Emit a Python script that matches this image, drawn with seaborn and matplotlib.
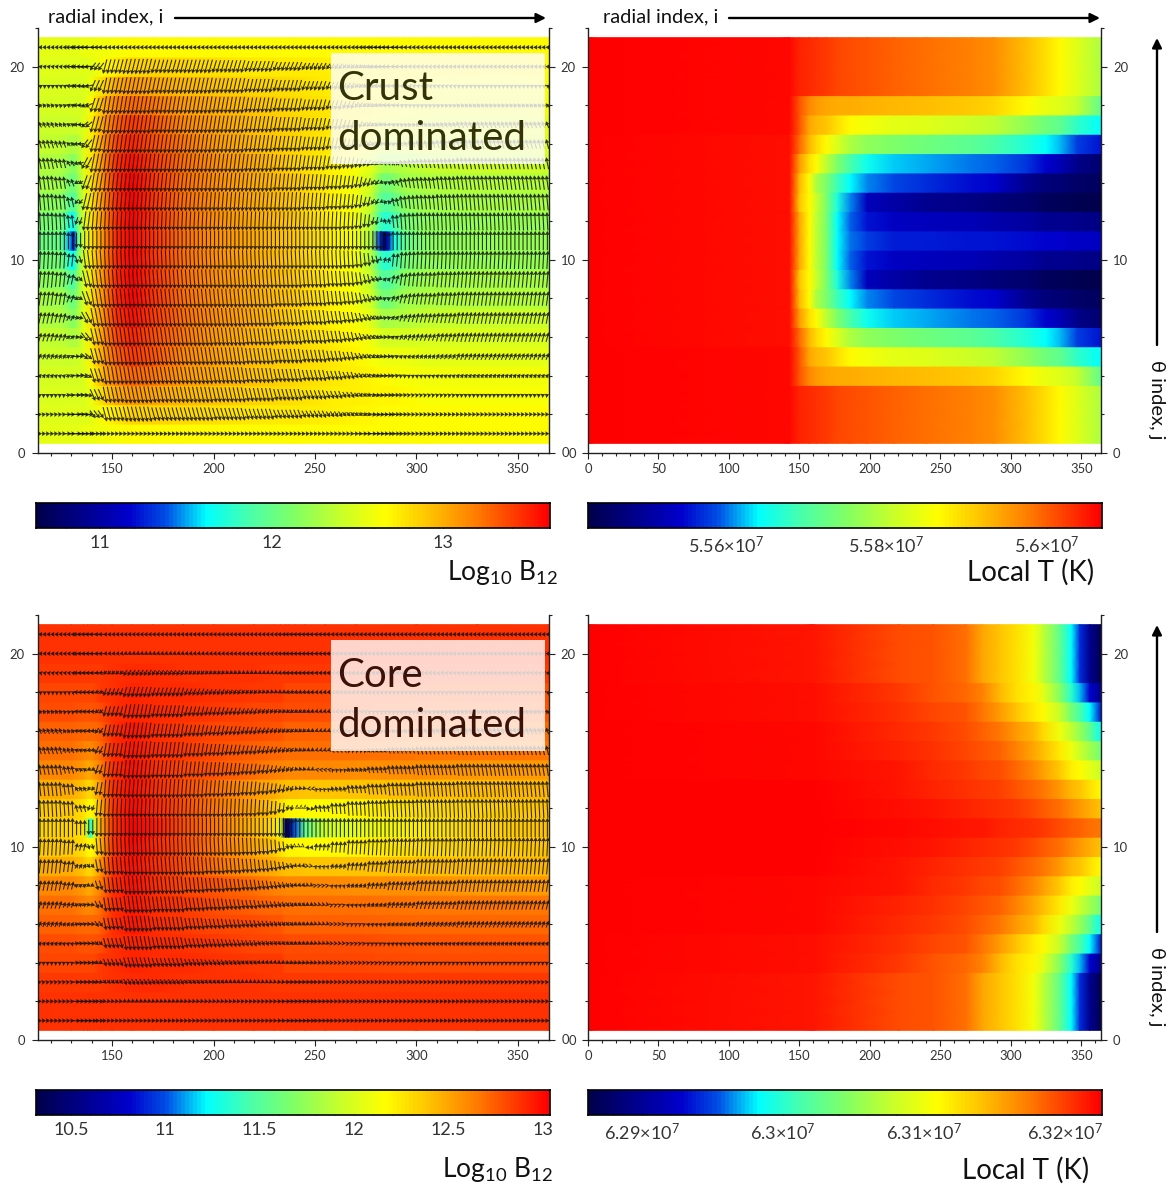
import numpy as np
import matplotlib
matplotlib.use("Agg")
import matplotlib.pyplot as plt
from matplotlib.colors import LinearSegmentedColormap, Normalize
from matplotlib.patches import Rectangle
import seaborn as sns

W, H = 1172, 1190

# ---- colour scale limits
LOGB_TOP_RANGE = (10.627, 13.624)
LOGB_BOT_RANGE = (10.315, 13.037)
T_TOP_RANGE = (5.5428, 5.6069)    # 1e7 K
T_BOT_RANGE = (6.2862, 6.3226)    # 1e7 K

# ---- theta rows j = 1..11 (the field is mirror symmetric about j = 11)
# Values below are positions on each colour bar (0 = low end, 1 = high end).
TR_I = [0,143,150,157,162,169,177,186,198,217,240,273,288,311,325,335,347,364]
TR_LEVEL = [
 [1,.99,.96,.95,.94,.93,.92,.91,.90,.885,.87,.845,.83,.77,.72,.68,.63,.56],
 [1,.99,.96,.95,.94,.93,.92,.91,.90,.885,.87,.845,.83,.77,.72,.68,.63,.56],
 [1,.99,.96,.95,.94,.93,.92,.91,.90,.885,.87,.845,.83,.77,.72,.68,.63,.56],
 [1,.99,.9,.84,.82,.80,.795,.79,.785,.78,.77,.75,.74,.68,.645,.63,.59,.45],
 [1,.99,.9,.8,.78,.76,.72,.68,.66,.64,.63,.6,.58,.52,.47,.45,.39,.33],
 [1,.98,.88,.78,.73,.68,.62,.56,.52,.5,.47,.44,.42,.37,.33,.3,.24,.2],
 [1,.98,.82,.72,.68,.58,.5,.42,.35,.31,.29,.27,.26,.23,.18,.15,.09,.05],
 [1,.98,.78,.68,.56,.5,.4,.33,.28,.25,.22,.19,.18,.1,.07,.06,.04,.03],
 [1,.98,.76,.68,.6,.5,.36,.28,.16,.13,.1,.08,.07,.05,.03,.02,.01,0],
 [1,.98,.8,.68,.58,.5,.33,.26,.2,.17,.16,.15,.14,.12,.1,.1,.09,.08],
 [1,.98,.8,.68,.58,.5,.33,.27,.24,.21,.205,.2,.2,.19,.18,.18,.17,.17],
]

BR_I = [0,160,221,245,268,280,292,304,316,323,335,343,349,356,364]
BR_LEVEL = [
 [1,.97,.91,.9,.87,.8,.76,.72,.66,.58,.45,.33,.22,.1,.01],
 [1,.97,.91,.9,.87,.8,.76,.72,.66,.58,.45,.33,.22,.1,.01],
 [1,.97,.91,.9,.87,.8,.76,.72,.66,.58,.45,.33,.22,.1,.01],
 [1,.98,.93,.9,.88,.85,.78,.72,.69,.64,.5,.38,.3,.18,.1],
 [1,.98,.94,.92,.9,.86,.82,.76,.71,.68,.59,.48,.42,.33,.2],
 [1,.99,.95,.93,.91,.89,.86,.82,.78,.73,.65,.58,.53,.45,.34],
 [1,.99,.96,.94,.92,.905,.89,.85,.8,.77,.71,.65,.6,.54,.48],
 [1,.99,.97,.95,.93,.92,.91,.88,.84,.81,.75,.7,.68,.64,.6],
 [1,1,.975,.96,.945,.935,.925,.9,.88,.86,.82,.78,.76,.72,.68],
 [1,1,.98,.97,.96,.95,.94,.93,.91,.895,.87,.84,.82,.79,.76],
 [1,1,.985,.98,.975,.97,.96,.95,.94,.93,.91,.895,.885,.87,.86],
]

TL_I = [113.5,125,129,131,133,136,140,146,152,160,170,185,200,220,240,260,270,278,282,284,286,289,294,305,330,365.3]
TL_LEVEL = [
 [.64,.64,.64,.64,.64,.65,.65,.66,.67,.68,.68,.68,.68,.68,.68,.68,.68,.68,.68,.68,.68,.68,.68,.68,.68,.68],
 [.63,.63,.63,.63,.63,.63,.64,.68,.71,.74,.74,.73,.72,.71,.71,.7,.69,.69,.68,.68,.68,.68,.68,.68,.68,.68],
 [.62,.62,.62,.62,.62,.62,.65,.74,.79,.82,.8,.78,.76,.74,.72,.7,.7,.69,.69,.69,.69,.69,.68,.67,.67,.67],
 [.61,.61,.61,.61,.61,.62,.68,.79,.85,.88,.86,.82,.79,.76,.73,.71,.7,.69,.68,.68,.68,.67,.67,.66,.66,.66],
 [.6,.6,.6,.6,.6,.63,.7,.82,.89,.93,.9,.84,.81,.77,.74,.71,.69,.67,.66,.65,.65,.65,.65,.64,.64,.64],
 [.59,.58,.57,.56,.57,.63,.71,.83,.92,.96,.91,.86,.82,.78,.74,.7,.68,.65,.62,.61,.61,.61,.61,.62,.62,.62],
 [.57,.56,.53,.5,.54,.63,.72,.84,.94,.98,.93,.87,.83,.79,.74,.69,.67,.63,.57,.55,.55,.56,.57,.59,.6,.6],
 [.55,.54,.49,.47,.52,.62,.72,.84,.95,1,.94,.87,.83,.79,.75,.69,.66,.6,.5,.48,.48,.5,.54,.56,.57,.57],
 [.52,.51,.45,.42,.5,.62,.72,.84,.95,1,.94,.87,.83,.79,.75,.69,.66,.58,.46,.43,.43,.46,.51,.54,.55,.55],
 [.49,.48,.38,.33,.47,.62,.72,.84,.95,1,.94,.87,.83,.79,.75,.69,.66,.56,.41,.38,.38,.41,.48,.52,.53,.53],
 [.47,.46,.3,.15,.42,.62,.72,.84,.95,1,.94,.87,.83,.79,.75,.69,.66,.55,.24,.02,.2,.35,.45,.51,.53,.53],
]

BL_I = [113.5,130,136,138,139.5,141,144,150,160,170,185,200,220,230,233,235.5,237,240,245,255,270,300,330,365.3]
BL_LEVEL = [
 [.94,.94,.94,.94,.94,.94,.94,.94,.94,.94,.94,.94,.94,.94,.94,.94,.94,.94,.94,.94,.94,.94,.94,.94],
 [.94,.94,.94,.94,.94,.94,.94,.94,.945,.945,.94,.94,.94,.94,.94,.94,.94,.94,.94,.94,.94,.94,.94,.94],
 [.93,.93,.93,.93,.93,.93,.93,.94,.95,.95,.94,.94,.94,.93,.93,.93,.93,.93,.93,.93,.93,.93,.93,.93],
 [.92,.92,.92,.92,.92,.92,.93,.94,.96,.95,.95,.94,.93,.93,.93,.92,.92,.92,.92,.92,.92,.91,.91,.91],
 [.91,.91,.9,.9,.9,.9,.91,.94,.96,.95,.94,.93,.92,.92,.92,.91,.91,.91,.91,.91,.91,.9,.9,.9],
 [.89,.89,.88,.88,.88,.88,.89,.94,.97,.95,.93,.92,.91,.9,.9,.89,.89,.89,.89,.89,.89,.88,.88,.88],
 [.87,.87,.85,.84,.84,.85,.87,.94,.97,.95,.93,.91,.89,.88,.88,.87,.87,.87,.87,.87,.87,.86,.86,.86],
 [.84,.84,.82,.8,.8,.82,.85,.94,.98,.95,.92,.9,.87,.85,.85,.84,.84,.84,.84,.84,.83,.83,.82,.82],
 [.79,.79,.76,.74,.74,.76,.82,.94,.98,.95,.91,.87,.82,.79,.78,.77,.77,.77,.76,.76,.76,.77,.77,.78],
 [.75,.75,.72,.69,.68,.7,.78,.93,.99,.96,.91,.86,.8,.75,.72,.7,.69,.69,.68,.68,.69,.72,.74,.76],
 [.74,.74,.72,.55,.36,.6,.78,.93,1,.97,.91,.86,.78,.72,.62,.04,.02,.25,.45,.6,.64,.7,.74,.76],
]

# ---- field direction: vertical extent (in j) of the arrows per radial bin
ARROW_I = np.arange(114.5, 365, 2.0)
ARROW_U_ROW = [2.0,1.9,1.7,1.5,1.4,1.3,1.2,1.0,.8,.5,0]

TL_EDGES = [113,122,128,132,136,140,146,155,170,200,215,230,243,255,263,270,274,278,281,284,288,292,296,300,310,320,366]
TL_U_BIN = [1,1,1.5,2.5,2.5,1.5,1,1,1,1,1,1,1,1,1,1.2,1.5,2,2,2,1.5,1.2,1,1,1,1]
TL_V = [
 [0,0,0,0,0,0,0,0,0,0,0,0,0,0,0,0,0,0,0,0,0,0,0,0,0,0],
 [.03,.02,0,0,-.05,-.4,-.75,-.8,-.72,-.66,-.58,-.48,-.38,-.3,-.22,-.16,-.12,-.08,-.05,-.03,-.02,0,0,0,0,0],
 [.1,.08,.05,0,-.1,-.6,-.85,-.9,-.85,-.8,-.72,-.62,-.5,-.42,-.32,-.22,-.15,-.1,-.06,-.02,0,.02,.03,.04,.05,.08],
 [.2,.15,.1,0,-.2,-.75,-.95,-.95,-.92,-.88,-.8,-.7,-.6,-.5,-.4,-.28,-.2,-.14,-.08,-.02,.04,.08,.1,.12,.15,.2],
 [.3,.25,.15,0,-.3,-.85,-1,-1,-.95,-.93,-.87,-.78,-.68,-.58,-.47,-.35,-.25,-.18,-.1,-.02,.08,.16,.2,.23,.28,.35],
 [.45,.38,.2,-.05,-.45,-.9,-1,-1,-1,-.97,-.91,-.83,-.74,-.65,-.54,-.42,-.3,-.2,-.1,0,.14,.28,.34,.38,.45,.5],
 [.6,.5,.3,-.1,-.6,-1,-1,-1,-1,-1,-.96,-.88,-.8,-.7,-.6,-.5,-.36,-.22,-.1,.05,.22,.38,.44,.5,.55,.62],
 [.75,.65,.4,-.15,-.75,-1,-1,-1,-1,-1,-1,-.93,-.86,-.78,-.7,-.6,-.44,-.27,-.1,.1,.32,.5,.58,.62,.7,.75],
 [.88,.8,.55,-.25,-.9,-1,-1,-1,-1,-1,-1,-1,-.94,-.86,-.8,-.7,-.52,-.3,-.08,.18,.45,.66,.74,.78,.85,.88],
 [.95,.9,.7,-.4,-1,-1,-1,-1,-1,-1,-1,-1,-1,-1,-.95,-.88,-.7,-.42,-.1,.3,.7,.88,.92,.95,.95,.95],
 [1,1,.9,-.8,-1,-1,-1,-1,-1,-1,-1,-1,-1,-1,-1,-1,-1,-1,-1,.9,1,1,1,1,1,1],
]

BL_EDGES = [113,125,132,137,141,146,155,170,185,195,205,213,222,228,232,236,240,245,250,257,265,275,285,300,320,366]
BL_U_BIN = [1,1,2,2,1.5,1,1,1,1,1,1,1,1,1,1.2,1.5,1.5,1.5,1.2,1,1,1,1,1,1]
BL_V = [
 [0,0,0,0,0,0,0,0,0,0,0,0,0,0,0,0,0,0,0,0,0,0,0,0,0],
 [0,0,0,0,0,-.03,-.08,-.06,-.04,-.03,-.02,0,0,0,0,0,0,0,0,0,0,0,0,0,0],
 [.03,.02,0,0,-.05,-.2,-.32,-.28,-.22,-.18,-.14,-.1,-.07,-.05,-.03,0,0,0,0,0,0,0,0,.01,.02],
 [.1,.08,.03,0,-.12,-.4,-.55,-.48,-.38,-.32,-.27,-.22,-.17,-.14,-.11,-.09,-.06,-.04,-.02,0,.01,.03,.05,.07,.08],
 [.2,.15,.05,0,-.2,-.55,-.75,-.65,-.53,-.46,-.4,-.34,-.27,-.23,-.19,-.16,-.12,-.08,-.05,-.01,.03,.08,.13,.17,.2],
 [.3,.22,.08,-.03,-.3,-.65,-.85,-.75,-.63,-.55,-.48,-.41,-.34,-.29,-.24,-.2,-.15,-.1,-.06,0,.06,.14,.22,.29,.35],
 [.4,.3,.1,-.05,-.4,-.75,-.92,-.85,-.73,-.65,-.57,-.5,-.42,-.36,-.3,-.24,-.16,-.1,-.04,.04,.14,.24,.34,.43,.5],
 [.55,.42,.15,-.1,-.5,-.85,-1,-.95,-.84,-.76,-.68,-.6,-.5,-.42,-.34,-.26,-.16,-.08,.02,.12,.24,.36,.48,.58,.65],
 [.75,.6,.25,-.2,-.7,-.95,-1,-1,-.97,-.9,-.84,-.76,-.66,-.56,-.44,-.3,-.14,-.02,.12,.28,.44,.58,.7,.8,.85],
 [.9,.8,.4,-.3,-.9,-1,-1,-1,-1,-1,-.98,-.94,-.86,-.74,-.55,-.3,-.05,.18,.38,.6,.78,.88,.94,.98,1],
 [1,1,.8,-.8,-1,-1,-1,-1,-1,-1,-1,-1,-1,-1,-1,.9,1,1,1,1,1,1,1,1,1],
]

# ---- tick labels
LOGB_TOP_TICKS = [11, 12, 13]
LOGB_BOT_TICKS = [10.5, 11, 11.5, 12, 12.5, 13]
T_TOP_TICKS = [5.56, 5.58, 5.60]
T_TOP_LABELS = ["5.56×10$^{7}$", "5.58×10$^{7}$", "5.6×10$^{7}$"]
T_BOT_TICKS = [6.29, 6.30, 6.31, 6.32]
T_BOT_LABELS = ["6.29×10$^{7}$", "6.3×10$^{7}$", "6.31×10$^{7}$", "6.32×10$^{7}$"]

sns.set_theme(style="ticks")
plt.rcParams["font.family"] = ["Lato", "DejaVu Sans"]
plt.rcParams["mathtext.fontset"] = "custom"
plt.rcParams["mathtext.rm"] = "Lato"
plt.rcParams["mathtext.it"] = "Lato:italic"
plt.rcParams["mathtext.bf"] = "Lato:bold"
plt.rcParams["mathtext.default"] = "rm"

CMAP = LinearSegmentedColormap.from_list("jetlike", [
    (0.00, (0, 0, .3)), (.18, (0, 0, .8)), (.25, (0, .3, .9)), (.33, (0, 1, 1)),
    (.42, (.3, 1, .65)), (.50, (.5, 1, .4)), (.60, (.8, 1, .15)), (.68, (1, 1, 0)),
    (.76, (1, .78, 0)), (.87, (1, .45, 0)), (1.0, (1, 0, 0))], N=128)

INK = "#222222"
fig = plt.figure(figsize=(W / 100, H / 100), dpi=100, facecolor="white")


def px_axes(x0, y0, x1, y1):
    return fig.add_axes([x0 / W, 1 - y1 / H, (x1 - x0) / W, (y1 - y0) / H])


def field(ax, cols, level, rng):
    half = np.array(level, dtype=float)
    rows = np.vstack([half, half[-2::-1]])
    values = rng[0] + rows * (rng[1] - rng[0])
    j = np.arange(1, 22)
    y = np.column_stack([j - .5, j + .5]).ravel()
    c = np.repeat(values, 2, axis=0)
    ax.pcolormesh(cols, y, c, shading="gouraud", cmap=CMAP, norm=Normalize(*rng), rasterized=True)


def arrows(ax, edges, v_half, u_bin):
    bins = np.clip(np.searchsorted(edges, ARROW_I, side="right") - 1, 0, len(u_bin) - 1)
    v_half = np.array(v_half, dtype=float)
    X, Y, U, V = [], [], [], []
    for r in range(21):
        k = min(r, 20 - r)
        sign = 1 if r < 10 else -1
        X.append(ARROW_I)
        Y.append(np.full(ARROW_I.shape, r + 1.0))
        U.append(sign * ARROW_U_ROW[k] * np.array(u_bin)[bins])
        V.append(v_half[k][bins])
    ax.quiver(np.ravel(X), np.ravel(Y), np.ravel(U), np.ravel(V), pivot="mid", angles="xy",
              scale_units="xy", scale=1, units="dots", width=1.1, headwidth=4.4, headlength=3.8,
              headaxislength=3.4, minshaft=.1, minlength=0, color="#111111", alpha=.85, zorder=3)


def frame(ax, xlim, xmajor, xminor, labelright=False, ypad=4.3):
    ax.set_xlim(*xlim)
    ax.set_ylim(0, 22)
    ax.set_xticks(xmajor)
    ax.set_xticks(xminor, minor=True)
    ax.set_yticks([0, 10, 20])
    ax.set_yticks(np.arange(2, 23, 2), minor=True)
    ax.tick_params(which="major", length=4.4, width=.8, color=INK, labelsize=9.4, labelcolor="#333333", pad=3)
    ax.tick_params(which="minor", length=2.2, width=.8, color=INK)
    ax.tick_params(axis="y", which="both", left=True, right=True, labelleft=True, labelright=labelright)
    ax.tick_params(axis="y", which="major", pad=ypad)
    ax.spines["top"].set_visible(False)
    ax.spines["right"].set_visible(True)
    ax.grid(False)
    for s in ax.spines.values():
        s.set_linewidth(1.0)
        s.set_color(INK)


def colorbar(x0, y0, x1, y1, rng, major, labels, minor_step):
    cax = px_axes(x0, y0, x1, y1)
    levels = np.linspace(rng[0], rng[1], 128)[None, :]
    sns.heatmap(levels, ax=cax, cmap=CMAP, vmin=rng[0], vmax=rng[1], cbar=False,
                xticklabels=False, yticklabels=False)
    pos = lambda v: (np.asarray(v) - rng[0]) / (rng[1] - rng[0]) * 128
    minor = np.arange(np.ceil(rng[0] / minor_step) * minor_step, rng[1], minor_step)
    cax.set_xticks(pos(major))
    cax.set_xticklabels(labels)
    cax.set_xticks(pos(minor), minor=True)
    cax.tick_params(axis="x", which="major", direction="in", top=True, bottom=True, length=5, width=.8,
                    color="#222222", labelsize=13, labelcolor="#333333", pad=5)
    cax.tick_params(axis="x", which="minor", direction="in", top=True, bottom=True, length=3, width=.7,
                    color="#222222")
    cax.tick_params(axis="y", left=False, right=False)
    for s in cax.spines.values():
        s.set_visible(True)
        s.set_linewidth(1.2)
        s.set_color("black")
    return cax


def ptext(x, y, s, **kw):
    kw.setdefault("va", "center")
    fig.text(x / W, 1 - y / H, s, **kw)


def parrow(ax, x0, y0, x1, y1):
    ax.annotate("", xy=(x1, H - y1), xytext=(x0, H - y0), xycoords="figure pixels", textcoords="figure pixels",
                annotation_clip=False,
                arrowprops=dict(arrowstyle="-|>", lw=1.7, color="black", mutation_scale=14, shrinkA=0, shrinkB=0))


OFFS = [0, 587]
panels = [
    (TL_I, TL_LEVEL, LOGB_TOP_RANGE, TL_EDGES, TL_V, TL_U_BIN),
    (BL_I, BL_LEVEL, LOGB_BOT_RANGE, BL_EDGES, BL_V, BL_U_BIN),
]
rights = [(TR_I, TR_LEVEL, T_TOP_RANGE), (BR_I, BR_LEVEL, T_BOT_RANGE)]
LEFT_X_MAJOR = [150, 200, 250, 300, 350]
LEFT_X_MINOR = np.arange(120, 361, 10)
RIGHT_X_MAJOR = [0, 50, 100, 150, 200, 250, 300, 350]
RIGHT_X_MINOR = np.arange(0, 361, 10)

for off, (ci, lv, rng, ed, vv, ub), (ri, rl, rr) in zip(OFFS, panels, rights):
    axl = px_axes(38, 28 + off, 549, 453 + off)
    field(axl, ci, lv, rng)
    arrows(axl, ed, vv, ub)
    frame(axl, (113.5, 365.3), LEFT_X_MAJOR, LEFT_X_MINOR, labelright=False, ypad=5)
    axr = px_axes(588, 28 + off, 1101, 453 + off)
    field(axr, ri, rl, rr)
    frame(axr, (0, 364), RIGHT_X_MAJOR, RIGHT_X_MINOR, labelright=True)
    ptext(562, 453 + off, "0", fontsize=9.4, color="#333333", ha="left")

colorbar(36, 503, 550, 528, LOGB_TOP_RANGE, LOGB_TOP_TICKS, ["11", "12", "13"], 0.2)
colorbar(588, 503, 1102, 528, T_TOP_RANGE, T_TOP_TICKS, T_TOP_LABELS, 0.01)
colorbar(36, 1090, 550, 1115, LOGB_BOT_RANGE, LOGB_BOT_TICKS, ["10.5", "11", "11.5", "12", "12.5", "13"], 0.1)
colorbar(588, 1090, 1102, 1115, T_BOT_RANGE, T_BOT_TICKS, T_BOT_LABELS, 0.002)

# overlay boxes
for y0, word, col in [(53, "Crust", "#33330a"), (640, "Core", "#3a1208")]:
    fig.add_artist(Rectangle((331 / W, 1 - (y0 + 111) / H), 214 / W, 111 / H, transform=fig.transFigure,
                             facecolor="white", edgecolor="none", alpha=.8, zorder=5))
    ptext(337, y0 + 47, word, fontsize=29, color=col, va="baseline", zorder=6)
    ptext(337, y0 + 97, "dominated", fontsize=29, color=col, va="baseline", zorder=6)

ax0 = fig.axes[0]
ptext(48, 17, "radial index, i", fontsize=14.4, color="#111111")
ptext(603, 17, "radial index, i", fontsize=14.4, color="#111111")
parrow(ax0, 175, 18, 546, 18)
parrow(ax0, 729, 18, 1100, 18)
for off in OFFS:
    parrow(ax0, 1157, 345 + off, 1157, 38 + off)
    ptext(1157, 360 + off, "θ index, j", fontsize=14.4, rotation=-90, ha="center", va="top", color="#111111")

ptext(558, 572, r"Log$_{10}$ B$_{12}$", fontsize=19, ha="right", color="#111111")
ptext(1094, 572, "Local T (K)", fontsize=20, ha="right", color="#111111")
ptext(553, 1170, r"Log$_{10}$ B$_{12}$", fontsize=19, ha="right", color="#111111")
ptext(1089, 1170, "Local T (K)", fontsize=20, ha="right", color="#111111")

fig.savefig("out.png", dpi=100)
